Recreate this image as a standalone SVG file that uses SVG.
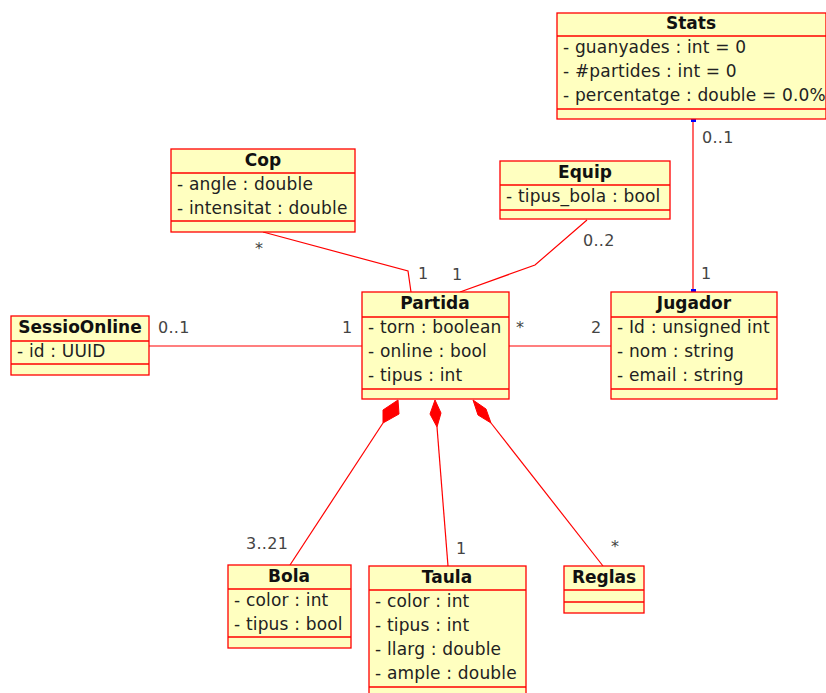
<svg xmlns="http://www.w3.org/2000/svg" width="826" height="693" viewBox="0 0 826 693">
<style>
.box{fill:#ffffc0;stroke:#ff0000;stroke-width:1.3}
.sep{stroke:#ff0000;stroke-width:1.3}
.t{font-family:"DejaVu Sans",sans-serif;font-size:17px;font-weight:bold;fill:#111;text-anchor:middle}
.a{font-family:"DejaVu Sans",sans-serif;font-size:17px;fill:#222;letter-spacing:0.18px}
.lbl{font-family:"DejaVu Sans",sans-serif;font-size:16px;fill:#444;letter-spacing:0.3px}
.ln{fill:none;stroke:#ff0000;stroke-width:1.2}
.dia{fill:#ff0000;stroke:#ff0000;stroke-width:1}
.end{fill:#0000ff}
</style>
<rect width="826" height="693" fill="#ffffff"/>
<g id="connectors">
  <polyline class="ln" points="693,120 693,291"/>
  <rect class="end" x="691" y="119" width="5" height="3"/>
  <rect class="end" x="691" y="289" width="5" height="3"/>
  <polyline class="ln" points="263,232 408,271 411,292"/>
  <polyline class="ln" points="587,220 535,265 460,292"/>
  <line class="ln" x1="149" y1="346" x2="362" y2="346"/>
  <line class="ln" x1="509" y1="346" x2="611" y2="346"/>
  <line class="ln" x1="383" y1="423" x2="290" y2="565"/>
  <polygon class="dia" points="398,400 399,414 383,423 383,410"/>
  <line class="ln" x1="437" y1="427" x2="448" y2="566"/>
  <polygon class="dia" points="435,400 441,413 437,427 430,414"/>
  <line class="ln" x1="491" y1="423" x2="603" y2="566"/>
  <polygon class="dia" points="473,400 486,409 491,423 478,415"/>
  <text class="lbl" x="702" y="143">0..1</text>
  <text class="lbl" x="701" y="279">1</text>
  <text class="lbl" x="255" y="254">*</text>
  <text class="lbl" x="418" y="279">1</text>
  <text class="lbl" x="583" y="246">0..2</text>
  <text class="lbl" x="452" y="280">1</text>
  <text class="lbl" x="158" y="333">0..1</text>
  <text class="lbl" x="342" y="333">1</text>
  <text class="lbl" x="516" y="333">*</text>
  <text class="lbl" x="591" y="333">2</text>
  <text class="lbl" x="246" y="549">3..21</text>
  <text class="lbl" x="456" y="554">1</text>
  <text class="lbl" x="611" y="552">*</text>
</g>
<g id="Stats">
  <rect class="box" x="557" y="13" width="269" height="106"/>
  <line class="sep" x1="557" y1="36" x2="826" y2="36"/>
  <line class="sep" x1="557" y1="109" x2="826" y2="109"/>
  <text class="t" x="691" y="29">Stats</text>
  <text class="a" x="563" y="53">- guanyades : int = 0</text>
  <text class="a" x="563" y="77">- #partides : int = 0</text>
  <text class="a" x="563" y="101">- percentatge : double = 0.0%</text>
</g>
<g id="Cop">
  <rect class="box" x="171" y="149" width="184" height="83"/>
  <line class="sep" x1="171" y1="173" x2="355" y2="173"/>
  <line class="sep" x1="171" y1="221" x2="355" y2="221"/>
  <text class="t" x="263" y="166">Cop</text>
  <text class="a" x="177" y="190">- angle : double</text>
  <text class="a" x="177" y="214">- intensitat : double</text>
</g>
<g id="Equip">
  <rect class="box" x="500" y="161" width="170" height="58"/>
  <line class="sep" x1="500" y1="185" x2="670" y2="185"/>
  <line class="sep" x1="500" y1="210" x2="670" y2="210"/>
  <text class="t" x="585" y="178">Equip</text>
  <text class="a" x="506" y="202">- tipus_bola : bool</text>
</g>
<g id="SessioOnline">
  <rect class="box" x="11" y="316" width="138" height="59"/>
  <line class="sep" x1="11" y1="341" x2="149" y2="341"/>
  <line class="sep" x1="11" y1="364" x2="149" y2="364"/>
  <text class="t" x="80" y="333">SessioOnline</text>
  <text class="a" x="17" y="357">- id : UUID</text>
</g>
<g id="Partida">
  <rect class="box" x="362" y="292" width="147" height="107"/>
  <line class="sep" x1="362" y1="317" x2="509" y2="317"/>
  <line class="sep" x1="362" y1="389" x2="509" y2="389"/>
  <text class="t" x="435" y="309">Partida</text>
  <text class="a" x="368" y="333">- torn : boolean</text>
  <text class="a" x="368" y="357">- online : bool</text>
  <text class="a" x="368" y="381">- tipus : int</text>
</g>
<g id="Jugador">
  <rect class="box" x="611" y="292" width="166" height="107"/>
  <line class="sep" x1="611" y1="317" x2="777" y2="317"/>
  <line class="sep" x1="611" y1="389" x2="777" y2="389"/>
  <text class="t" x="694" y="309">Jugador</text>
  <text class="a" x="617" y="333">- Id : unsigned int</text>
  <text class="a" x="617" y="357">- nom : string</text>
  <text class="a" x="617" y="381">- email : string</text>
</g>
<g id="Bola">
  <rect class="box" x="228" y="565" width="123" height="83"/>
  <line class="sep" x1="228" y1="589" x2="351" y2="589"/>
  <line class="sep" x1="228" y1="637" x2="351" y2="637"/>
  <text class="t" x="289" y="582">Bola</text>
  <text class="a" x="234" y="606">- color : int</text>
  <text class="a" x="234" y="630">- tipus : bool</text>
</g>
<g id="Taula">
  <rect class="box" x="369" y="566" width="157" height="130"/>
  <line class="sep" x1="369" y1="590" x2="526" y2="590"/>
  <line class="sep" x1="369" y1="687" x2="526" y2="687"/>
  <text class="t" x="447" y="583">Taula</text>
  <text class="a" x="375" y="607">- color : int</text>
  <text class="a" x="375" y="631">- tipus : int</text>
  <text class="a" x="375" y="655">- llarg : double</text>
  <text class="a" x="375" y="679">- ample : double</text>
</g>
<g id="Reglas">
  <rect class="box" x="564" y="566" width="80" height="47"/>
  <line class="sep" x1="564" y1="590" x2="644" y2="590"/>
  <line class="sep" x1="564" y1="602" x2="644" y2="602"/>
  <text class="t" x="604" y="583">Reglas</text>
</g>
</svg>
